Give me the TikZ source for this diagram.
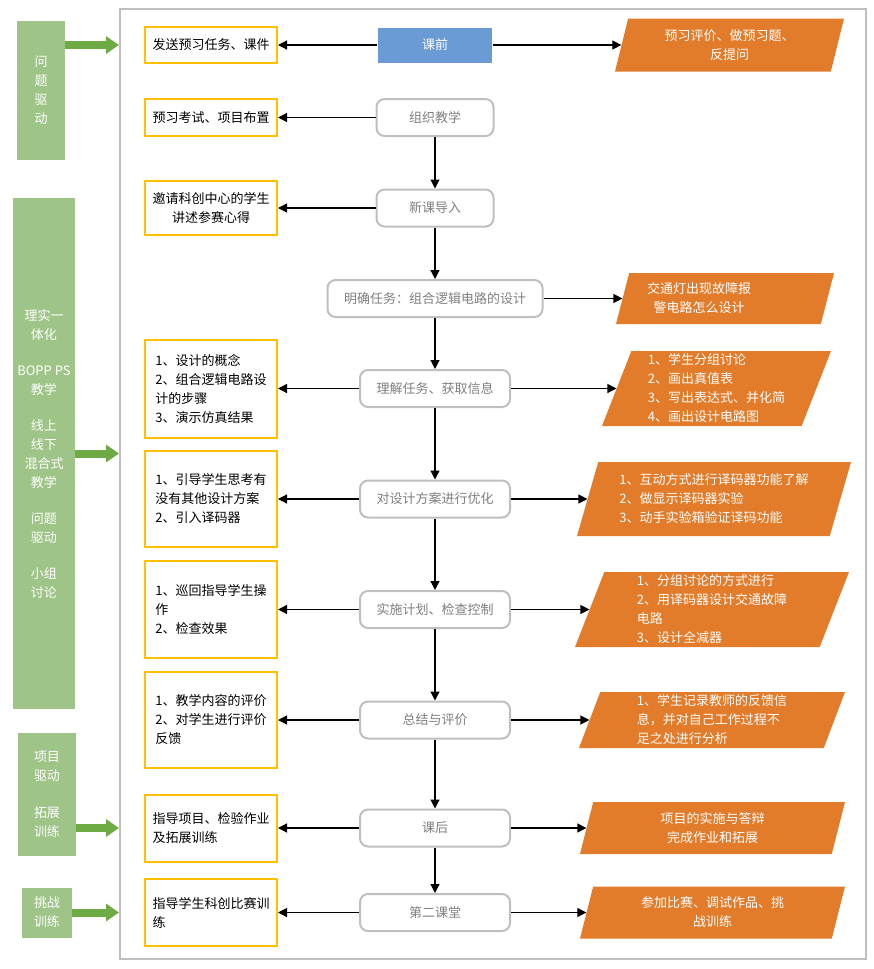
\documentclass[tikz,border=0pt]{standalone}
\usepackage{fontspec}
\newfontfamily\cjk{Noto Sans CJK SC}
\usetikzlibrary{shapes.geometric,arrows.meta}
\definecolor{lgreen}{HTML}{9FC487}
\definecolor{dgreen}{HTML}{6EAB45}
\definecolor{orng}{HTML}{E27B2A}
\definecolor{lblue}{HTML}{6A9BD4}
\definecolor{gold}{HTML}{FFC000}
\definecolor{lgray}{HTML}{BFBFBF}
\definecolor{dgray}{HTML}{7F7F7F}

\begin{document}
\begin{tikzpicture}[x=1pt,y=-1pt,
  every node/.style={font=\cjk\fontsize{13}{19}\selectfont, inner sep=0pt},
  idea/.style={fill=lgreen, text=white, align=center},
  task/.style={draw=gold, line width=2pt, minimum width=132pt, align=left},
  stage/.style={draw=lgray, line width=2pt, rounded corners=8pt, fill=white, text=dgray, minimum height=37pt},
  act/.style={trapezium, trapezium left angle=67, trapezium right angle=113, trapezium stretches body, fill=orng, text=white, align=left},
  flow/.style={line width=1.2pt, -{Triangle[length=9pt,width=9pt]}},
  push/.style={line width=8pt, dgreen, -{Triangle[length=13pt,width=17pt]}}]

  \useasboundingbox (0,0) rectangle (873,969);
  \node[draw=lgray, line width=2pt, minimum width=746pt, minimum height=950pt] (frame) at (493,484) {};

  \node[idea, minimum width=48pt, minimum height=139pt] (qd) at (41,90.5) {问\\题\\驱\\动};
  \node[idea, minimum width=62pt, minimum height=511pt] (lx) at (44,453.5) {理实一\\体化\\[17pt]BOPP PS\\教学\\[17pt]线上\\线下\\混合式\\教学\\[17pt]问题\\驱动\\[17pt]小组\\讨论};
  \node[idea, minimum width=58pt, minimum height=123pt] (xm) at (47,794.5) {项目\\驱动\\[18pt]拓展\\训练};
  \node[idea, minimum width=50pt, minimum height=50pt] (tz) at (47,912.5) {挑战\\训练};

  \node[stage, sharp corners, draw=none, fill=lblue, text=white, minimum width=114pt, minimum height=35pt] (pre) at (435,45) {课前};
  \node[stage, minimum width=117pt] (org) at (435,117.5) {组织教学};
  \node[stage, minimum width=117pt] (new) at (435,208) {新课导入};
  \node[stage, minimum width=215pt] (goal) at (435,298.5) {明确任务：组合逻辑电路的设计};
  \node[stage, minimum width=150pt] (info) at (435,388.5) {理解任务、获取信息};
  \node[stage, minimum width=150pt] (opt) at (435,499) {对设计方案进行优化};
  \node[stage, minimum width=150pt] (plan) at (435,609.5) {实施计划、检查控制};
  \node[stage, minimum width=150pt] (sum) at (435,720) {总结与评价};
  \node[stage, minimum width=150pt] (post) at (435,828) {课后};
  \node[stage, minimum width=150pt] (club) at (435,912.5) {第二课堂};

  \node[task, minimum height=36pt] (t1) at (211,45) {发送预习任务、课件};
  \node[task, minimum height=37pt] (t2) at (211,117.5) {预习考试、项目布置};
  \node[task, minimum height=54pt, align=center] (t3) at (211,208) {邀请科创中心的学生\\讲述参赛心得};
  \node[task, minimum height=98pt] (t4) at (211,388.5) {1、设计的概念\\2、组合逻辑电路设\\计的步骤\\3、演示仿真结果};
  \node[task, minimum height=96pt] (t5) at (211,499) {1、引导学生思考有\\没有其他设计方案\\2、引入译码器};
  \node[task, minimum height=97pt] (t6) at (211,609.5) {1、巡回指导学生操\\作\\2、检查效果};
  \node[task, minimum height=96pt] (t7) at (211,720) {1、教学内容的评价\\2、对学生进行评价\\反馈};
  \node[task, minimum height=67pt] (t8) at (211,828) {指导项目、检验作业\\及拓展训练};
  \node[task, minimum height=67pt] (t9) at (211,912.5) {指导学生科创比赛训\\练};

  \node[act, minimum width=229pt, minimum height=53pt, align=center] (o1) at (729.5,45) {预习评价、做预习题、\\反提问};
  \node[act, minimum width=218pt, minimum height=51pt, text width=156pt] (o2) at (725,298.5) {交通灯出现故障报\\\hspace*{0.5em}警电路怎么设计};
  \node[act, minimum width=229pt, minimum height=75pt] (o3) at (716.5,388.5) {1、学生分组讨论\\2、画出真值表\\3、写出表达式、并化简\\4、画出设计电路图};
  \node[act, minimum width=274pt, minimum height=74pt] (o4) at (714,499) {1、互动方式进行译码器功能了解\\2、做显示译码器实验\\3、动手实验箱验证译码功能};
  \node[act, minimum width=274pt, minimum height=75pt] (o5) at (712,609.5) {1、分组讨论的方式进行\\2、用译码器设计交通故障\\电路\\3、设计全减器};
  \node[act, minimum width=266pt, minimum height=56pt] (o6) at (712,720) {1、学生记录教师的反馈信\\息，并对自己工作过程不\\足之处进行分析};
  \node[act, minimum width=265pt, minimum height=52pt, align=center] (o7) at (712.5,828) {项目的实施与答辩\\完成作业和拓展};
  \node[act, minimum width=265pt, minimum height=52pt, align=center] (o8) at (712.5,912.5) {参加比赛、调试作品、挑\\战训练};

  \draw[flow] (org) -- (new);
  \draw[flow] (new) -- (goal);
  \draw[flow] (goal) -- (info);
  \draw[flow] (info) -- (opt);
  \draw[flow] (opt) -- (plan);
  \draw[flow] (plan) -- (sum);
  \draw[flow] (sum) -- (post);
  \draw[flow] (post) -- (club);

  \draw[flow] (pre.west) -- (t1.east);
  \draw[flow] (org.west) -- (t2.east);
  \draw[flow] (new.west) -- (t3.east);
  \draw[flow] (info.west) -- (t4.east);
  \draw[flow] (opt.west) -- (t5.east);
  \draw[flow] (plan.west) -- (t6.east);
  \draw[flow] (sum.west) -- (t7.east);
  \draw[flow] (post.west) -- (t8.east);
  \draw[flow] (club.west) -- (t9.east);

  \draw[flow] (pre.east) -- (o1.left side);
  \draw[flow] (goal.east) -- (o2.left side);
  \draw[flow] (info.east) -- (o3.left side);
  \draw[flow] (opt.east) -- (o4.left side);
  \draw[flow] (plan.east) -- (o5.left side);
  \draw[flow] (sum.east) -- (o6.left side);
  \draw[flow] (post.east) -- (o7.left side);
  \draw[flow] (club.east) -- (o8.left side);

  \draw[push] (qd.east |- t1.west) -- (frame.west |- t1.west);
  \draw[push] (lx.east) -- (frame.west |- lx.east);
  \draw[push] (xm.east |- t8.west) -- (frame.west |- t8.west);
  \draw[push] (tz.east) -- (frame.west |- tz.east);

\end{tikzpicture}
\end{document}
